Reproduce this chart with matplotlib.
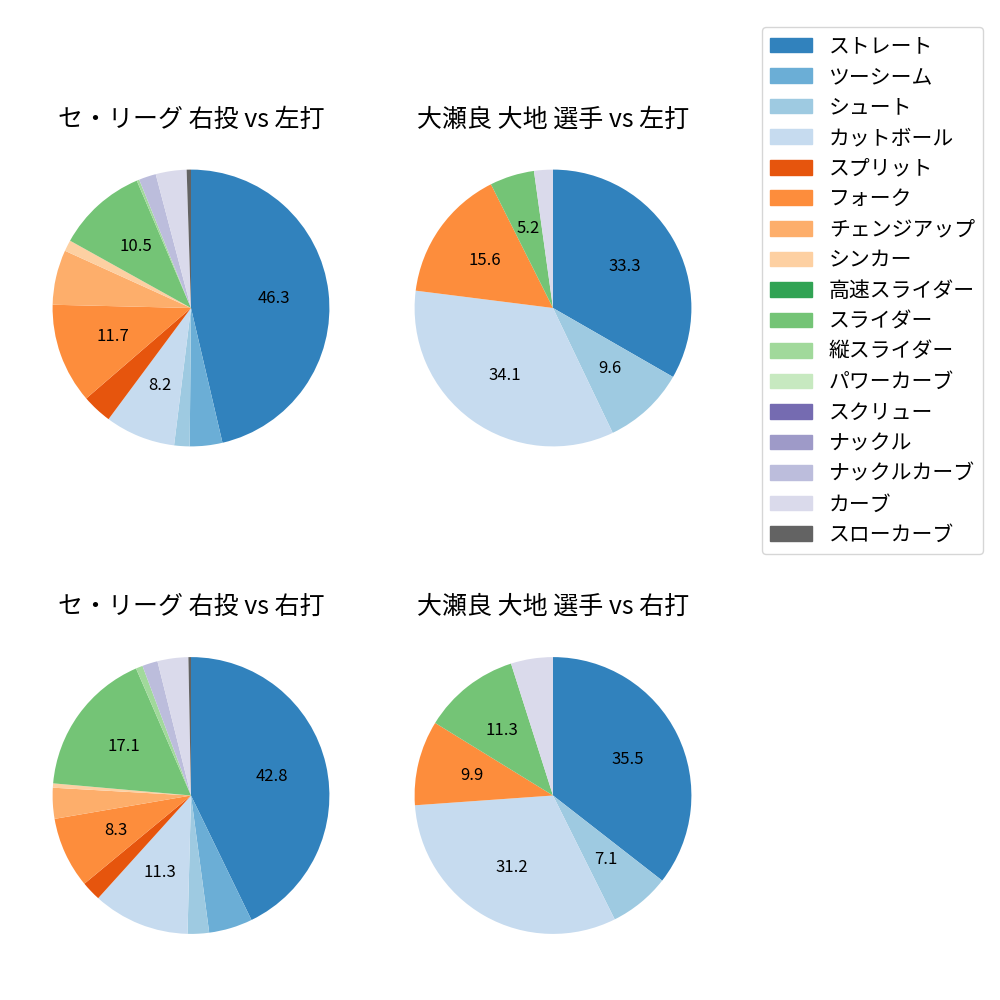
import matplotlib
matplotlib.use('Agg')
import matplotlib.pyplot as plt
from matplotlib.patches import Patch

plt.rcParams['font.family'] = ['Noto Sans CJK JP', 'DejaVu Sans']

# pitch types and colours (tab20c order)
pitches = ['ストレート', 'ツーシーム', 'シュート', 'カットボール', 'スプリット', 'フォーク',
           'チェンジアップ', 'シンカー', '高速スライダー', 'スライダー', '縦スライダー',
           'パワーカーブ', 'スクリュー', 'ナックル', 'ナックルカーブ', 'カーブ', 'スローカーブ']
colors = [plt.cm.tab20c(i) for i in range(16)] + ['#636363']

titles = ['セ・リーグ 右投 vs 左打', '大瀬良 大地 選手 vs 左打',
          'セ・リーグ 右投 vs 右打', '大瀬良 大地 選手 vs 右打']

# percentages (same order as pitches, 0 = not thrown)
league_vs_left = [46.3, 3.8, 1.8, 8.2, 3.5, 11.7, 6.4, 1.3, 0, 10.5, 0.3, 0, 0, 0, 2.0, 3.6, 0.5]
player_vs_left = [33.3, 0, 9.6, 34.1, 0, 15.6, 0, 0, 0, 5.2, 0, 0, 0, 0, 0, 2.2, 0]
league_vs_right = [42.8, 5.1, 2.5, 11.3, 2.3, 8.3, 3.6, 0.5, 0, 17.1, 0.8, 0, 0, 0, 1.8, 3.6, 0.3]
player_vs_right = [35.5, 0, 7.1, 31.2, 0, 9.9, 0, 0, 0, 11.3, 0, 0, 0, 0, 0, 4.9, 0]

series = [league_vs_left, player_vs_left, league_vs_right, player_vs_right]
label_min = [7.0, 5.1, 7.0, 5.1]

fig = plt.figure(figsize=(10, 10), dpi=100)

positions = [
    [0.018, 0.519, 0.346, 0.346],
    [0.380, 0.519, 0.346, 0.346],
    [0.018, 0.0315, 0.346, 0.346],
    [0.380, 0.0315, 0.346, 0.346],
]

for pos, vals, title, lm in zip(positions, series, titles, label_min):
    ax = fig.add_axes(pos)
    v = [x for x in vals if x > 0]
    c = [col for x, col in zip(vals, colors) if x > 0]
    ax.pie(v, colors=c, startangle=90, counterclock=False,
           autopct=lambda p, lm=lm: f'{p:.1f}' if p >= lm else '',
           textprops={'fontsize': 12})
    ax.set_title(title, fontsize=18)

handles = [Patch(color=col, label=name) for name, col in zip(pitches, colors)]
fig.legend(handles=handles, loc='upper left', bbox_to_anchor=(0.762, 0.973),
           borderaxespad=0, fontsize=15, handlelength=2.0, labelspacing=0.41)

plt.savefig('out.png', dpi=100)
